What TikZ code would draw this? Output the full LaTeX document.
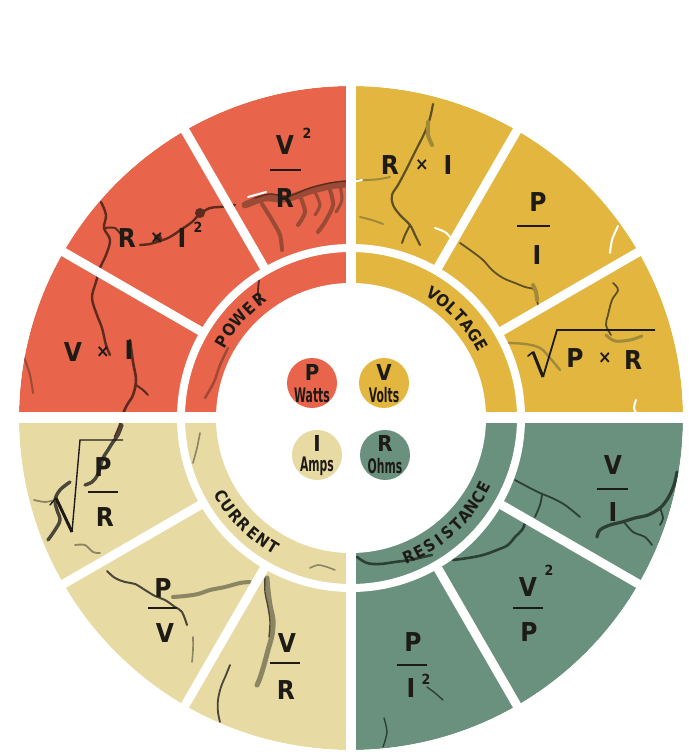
\documentclass[tikz,border=0pt]{standalone}
\usepackage{graphicx}
\usepackage{fontspec}
\setmainfont{DejaVu Sans Condensed}
\definecolor{cred}{HTML}{E8644A}
\definecolor{cgold}{HTML}{E3B640}
\definecolor{ccream}{HTML}{E7DAA3}
\definecolor{cgreen}{HTML}{6A917D}
\definecolor{ink}{HTML}{1E1B17}
\definecolor{crkred}{HTML}{5C2A1E}
\definecolor{crkredm}{HTML}{9A4A35}
\definecolor{crkgold}{HTML}{5E5026}
\definecolor{crkgoldm}{HTML}{A08A3A}
\definecolor{crkcream}{HTML}{4A463A}
\definecolor{crkcreamm}{HTML}{8C8564}
\definecolor{crkgreen}{HTML}{2C3F35}
\begin{document}
\begin{tikzpicture}[x=1pt,y=1pt,
  fx/.style={font=\fontsize{26}{26}\selectfont\bfseries, text=ink, inner sep=0pt},
  supx/.style={font=\fontsize{14}{14}\selectfont\bfseries, text=ink, inner sep=0pt},
  tms/.style={font=\fontsize{18}{18}\selectfont\bfseries, text=ink, inner sep=0pt},
  ringtxt/.style={font=\fontsize{16.5}{16.5}\selectfont\bfseries, text=ink, inner sep=0pt},
  badge/.style={circle, minimum size=50pt, inner sep=0pt},
  badgeL/.style={font=\fontsize{22}{22}\selectfont\bfseries, text=ink, inner sep=0pt},
  badgeS/.style={font=\fontsize{20}{20}\selectfont\bfseries, text=ink, inner sep=0pt},
  bar/.style={ink, line width=1.5pt},
  crk/.style={line width=2pt, line cap=round, line join=round},
  gapline/.style={white, line width=9pt},
]
\fill[white] (0,0) rectangle (700,752);
\useasboundingbox (0,0) rectangle (700,752);
\coordinate (C) at (351,334);
% quadrant pies
\fill[cred] (C) -- ++(90:332pt) arc[start angle=90,end angle=180,radius=332pt] -- cycle;
\fill[cgold] (C) -- ++(0:332pt) arc[start angle=0,end angle=90,radius=332pt] -- cycle;
\fill[ccream] (C) -- ++(180:332pt) arc[start angle=180,end angle=270,radius=332pt] -- cycle;
\fill[cgreen] (C) -- ++(270:332pt) arc[start angle=270,end angle=360,radius=332pt] -- cycle;

\begin{scope}[shift={(0,752)}, yscale=-1]
% ---- cracks: red
\draw[crk, crkred, line width=2.4pt] plot[smooth, tension=0.6] coordinates {(101,202) (106,215) (104,228) (110,240) (106,255) (100,268) (96,282) (92,298) (97,315) (102,328) (106,345) (110,355)};
\draw[crk, crkred] plot[smooth] coordinates {(105,228) (115,228) (122,236)};
\draw[crk, crkred, line width=2.6pt] plot[smooth, tension=0.6] coordinates {(130,340) (133,362) (136,380) (133,395) (127,405) (123,414) (120,425) (115,437)};
\draw[crk, crkred] plot[smooth] coordinates {(136,385) (143,390) (148,395)};
\draw[crk, crkred, line width=2.4pt] plot[smooth, tension=0.6] coordinates {(140,245) (150,244) (160,241) (170,237) (182,229) (192,222) (200,214) (210,208) (220,207) (235,205)};
\fill[crkred] (200,213) circle[radius=5pt];
\fill[crkred] (158,238) circle[radius=4pt];
\draw[crk, crkredm, line width=7pt] plot[smooth, tension=0.6] coordinates {(245,205) (265,198) (285,199) (310,191) (330,186) (346,184)};
\draw[crk, crkredm, line width=4pt] plot[smooth] coordinates {(262,204) (272,220) (280,235) (282,250)};
\draw[crk, crkredm, line width=4pt] plot[smooth] coordinates {(300,196) (305,212) (298,225)};
\draw[crk, crkredm, line width=4pt] plot[smooth] coordinates {(330,190) (333,205) (325,222) (318,232)};
\draw[crk, crkredm, line width=3pt] plot[smooth] coordinates {(315,192) (320,205) (315,215)};
\draw[crk, crkredm, line width=3pt] plot[smooth] coordinates {(340,186) (342,200) (336,212)};
\draw[crk, crkred, line width=1.4pt] plot[smooth, tension=0.6] coordinates {(255,198) (270,194) (288,196) (310,188) (330,183) (346,181)};
\draw[white, line width=2pt, line cap=round] (248,197) -- (266,192);
\draw[crk, crkred, line width=1.8pt] plot[smooth] coordinates {(259,280) (258,293) (261,305)};
\draw[crk, crkredm, line width=2.4pt] plot[smooth] coordinates {(228,348) (220,365) (214,382) (205,398)};
\draw[crk, crkredm, line width=2pt] plot[smooth] coordinates {(24,357) (30,375) (33,393)};
% ---- cracks: gold
\draw[crk, crkgold, line width=2.2pt] plot[smooth, tension=0.6] coordinates {(433,104) (430,118) (425,132) (418,146) (412,158) (405,172) (398,185) (392,195) (393,205) (400,215) (410,225) (415,235) (420,245)};
\draw[crk, crkgold] plot[smooth] coordinates {(410,225) (405,235) (402,243)};
\draw[crk, crkgoldm, line width=4pt] plot[smooth] coordinates {(428,122) (428,135) (432,145)};
\draw[crk, crkgoldm, line width=2pt] plot[smooth] coordinates {(357,180) (368,180) (380,179) (390,177)};
\draw[white, line width=2pt, line cap=round] (352,182) -- (362,180);
\draw[crk, crkgoldm, line width=2pt] plot[smooth] coordinates {(360,217) (372,220) (383,224)};
\draw[crk, crkgold, line width=1.8pt] plot[smooth, tension=0.6] coordinates {(460,243) (470,250) (483,260) (492,270) (503,278) (515,283) (525,287) (535,290) (537,300) (538,305)};
\draw[crk, crkgoldm, line width=4pt] plot[smooth] coordinates {(533,285) (536,292) (537,300)};
\draw[crk, crkgold, line width=1.8pt] plot[smooth, tension=0.6] coordinates {(613,283) (618,290) (612,300) (608,315) (606,325) (611,335)};
\draw[crk, crkgoldm, line width=2.4pt] plot[smooth, tension=0.6] coordinates {(508,343) (525,344) (540,348) (550,358) (560,370)};
\draw[crk, crkgoldm, line width=3pt] plot[smooth, tension=0.6] coordinates {(606,335) (615,341) (630,340) (642,336)};
\draw[white, line width=2pt, line cap=round] plot[smooth] coordinates {(618,226) (612,240) (610,253)};
\draw[white, line width=2pt, line cap=round] plot[smooth] coordinates {(435,228) (445,232) (450,237)};
\draw[white, line width=2pt, line cap=round] plot[smooth] coordinates {(636,400) (634,408) (637,414)};
% ---- cracks: cream
\draw[crk, crkcream, line width=3.4pt] plot[smooth, tension=0.6] coordinates {(122,425) (118,435) (113,442) (108,450) (103,458) (100,468) (97,476) (92,482) (85,485)};
\draw[crk, crkcream, line width=3.4pt] plot[smooth, tension=0.6] coordinates {(70,482) (60,490) (55,500) (57,510) (60,520) (55,530) (48,540)};
\draw[crk, crkcreamm, line width=1.8pt] plot[smooth] coordinates {(34,500) (45,502) (55,500)};
\draw[crk, crkcreamm, line width=1.8pt] plot[smooth] coordinates {(75,545) (85,545) (93,552) (100,553)};
\draw[crk, crkcream, line width=2pt] plot[smooth, tension=0.6] coordinates {(107,571) (115,578) (125,582) (135,584) (145,590) (155,596) (165,600) (175,607) (182,612) (187,625)};
\draw[crk, crkcreamm, line width=4pt] plot[smooth, tension=0.6] coordinates {(173,597) (185,596) (198,594) (210,590) (225,587) (240,583) (250,582)};
\draw[crk, crkcreamm, line width=5pt] plot[smooth, tension=0.6] coordinates {(267,578) (268,590) (270,605) (273,620) (272,635) (268,650) (264,665) (260,678) (257,685)};
\draw[crk, crkcream, line width=1.4pt] plot[smooth, tension=0.6] coordinates {(265,578) (265,592) (268,607) (270,622) (269,637)};
\draw[crk, crkcream, line width=1.8pt] plot[smooth, tension=0.6] coordinates {(230,665) (226,675) (221,687) (218,700) (218,712) (220,722)};
\draw[crk, crkcreamm, line width=1.6pt] plot[smooth] coordinates {(193,637) (193,650) (192,662)};
\draw[crk, crkcreamm, line width=1.6pt] plot[smooth] coordinates {(200,433) (197,448) (193,463)};
\draw[crk, crkcreamm, line width=1.6pt] plot[smooth] coordinates {(310,568) (318,565) (327,567) (335,570)};
% ---- cracks: green
\draw[crk, crkgreen, line width=2.6pt] plot[smooth, tension=0.6] coordinates {(357,557) (367,563) (380,564) (395,562) (410,560) (423,557) (432,555)};
\draw[crk, crkgreen, line width=2.6pt] plot[smooth, tension=0.6] coordinates {(453,560) (468,558) (483,555) (497,550) (508,545) (515,537) (522,530) (525,523)};
\draw[crk, crkgreen, line width=3.2pt] plot[smooth, tension=0.6] coordinates {(677,472) (674,485) (668,498) (660,508) (648,515) (635,518) (622,522) (610,525) (600,530) (597,537)};
\draw[crk, crkgreen, line width=1.8pt] plot[smooth] coordinates {(624,522) (633,532) (645,537) (652,545)};
\draw[crk, crkgreen, line width=1.8pt] plot[smooth] coordinates {(660,508) (663,518) (660,525)};
\draw[crk, crkgreen, line width=1.8pt] plot[smooth, tension=0.6] coordinates {(515,480) (528,487) (540,493) (552,498) (565,505) (580,517)};
\draw[crk, crkgreen, line width=1.8pt] plot[smooth] coordinates {(542,495) (540,505) (535,517)};
\draw[crk, crkgreen, line width=1.4pt] plot[smooth] coordinates {(384,718) (387,732) (383,747)};
\draw[crk, crkgreen, line width=1.4pt] plot[smooth] coordinates {(427,687) (435,693) (443,700)};
\end{scope}

% white gaps and masks
\fill[white, even odd rule] (C) circle[radius=174pt] (C) circle[radius=166pt];
\fill[white] (C) circle[radius=135pt];
\fill[white, even odd rule] (-5,-5) rectangle (705,757) (C) circle[radius=332pt];
\draw[white, line width=11pt] ([shift={(-340pt,0)}]C) -- ([shift={(340pt,0)}]C);
\draw[white, line width=10pt] ([shift={(0,-340pt)}]C) -- ([shift={(0,340pt)}]C);
\foreach \a in {30,60,120,150,210,240,300,330}
  \draw[gapline] ([shift={(\a:170pt)}]C) -- ([shift={(\a:340pt)}]C);

% ring labels
\foreach \ch [count=\i from 0] in {P,O,W,E,R}
  \node[ringtxt, rotate={149.5-5.5*\i-90}] (pw\i) at ([shift={({149.5-5.5*\i}:150pt)}]C) {\ch};
\foreach \ch [count=\i from 0] in {V,O,L,T,A,G,E}
  \node[ringtxt, rotate={56.6-4.57*\i-90}] (vo\i) at ([shift={({56.6-4.57*\i}:149pt)}]C) {\ch};
\foreach \ch [count=\i from 0] in {C,U,R,R,E,N,T}
  \node[ringtxt, rotate={211+4.63*\i+90}] (cu\i) at ([shift={({211+4.63*\i}:151pt)}]C) {\ch};
\foreach \ch [count=\i from 0] in {R,E,S,I,S,T,A,N,C,E}
  \node[ringtxt, rotate={292.6+4.42*\i+90}] (re\i) at ([shift={({292.6+4.42*\i}:150pt)}]C) {\ch};

\begin{scope}[shift={(0,752)}, yscale=-1]
% badges
\node[badge, fill=cred] (pc) at (312,383) {};
\node[badgeL] (pcl) at (312,372) {P};
\node[badgeS] (pcs) at (312,395) {\scalebox{0.6}[1]{Watts}};
\node[badge, fill=cgold] (vc) at (384,383) {};
\node[badgeL] (vcl) at (384,372) {V};
\node[badgeS] (vcs) at (384,395) {\scalebox{0.6}[1]{Volts}};
\node[badge, fill=ccream] (ic) at (317,455) {};
\node[badgeL] (icl) at (317,443) {I};
\node[badgeS] (ics) at (317,466) {\scalebox{0.6}[1]{Amps}};
\node[badge, fill=cgreen] (rc) at (385,455) {};
\node[badgeL] (rcl) at (385,443) {R};
\node[badgeS] (rcs) at (385,466) {\scalebox{0.6}[1]{Ohms}};

% red formulas
\node[fx] (r1n) at (285,145) {V};
\node[supx] (r1s) at (307,133) {2};
\draw[bar] (270,170) -- (301,170);
\node[fx] (r1d) at (285,198) {R};
\node[fx] (r2a) at (127,238) {R};
\node[tms] (r2b) at (157,238) {×};
\node[fx] (r2c) at (182,238) {I};
\node[supx] (r2d) at (198,227) {2};
\node[fx] (r3a) at (73,352) {V};
\node[tms] (r3b) at (103,352) {×};
\node[fx] (r3c) at (129,350) {I};
% gold formulas
\node[fx] (g1a) at (390,165) {R};
\node[tms] (g1b) at (422,165) {×};
\node[fx] (g1c) at (448,165) {I};
\node[fx] (g2n) at (538,202) {P};
\draw[bar] (517,226) -- (550,226);
\node[fx] (g2d) at (537,255) {I};
\draw[ink, line width=1.6pt, line cap=round] (528,356) -- (533,352);
\draw[ink, line width=3pt, line join=miter] (533,352) -- (543,377);
\draw[ink, line width=1.8pt] (543,377) -- (557,330) -- (655,330);
\node[fx] (g3a) at (575,358) {P};
\node[tms] (g3b) at (605,358) {×};
\node[fx] (g3c) at (633,360) {R};
% cream formulas
\draw[ink, line width=1.4pt, line cap=round] (50,505) -- (56,498);
\draw[ink, line width=3pt] (56,498) -- (72,532);
\draw[ink, line width=1.4pt] (72,532) -- (80,440) -- (123,440);
\node[fx] (c1n) at (103,467) {P};
\draw[bar] (88,492) -- (118,492);
\node[fx] (c1d) at (105,517) {R};
\node[fx] (c2n) at (163,588) {P};
\draw[bar] (148,608) -- (177,608);
\node[fx] (c2d) at (165,633) {V};
\node[fx] (c3n) at (287,643) {V};
\draw[bar] (270,663) -- (300,663);
\node[fx] (c3d) at (286,690) {R};
% green formulas
\node[fx] (e1n) at (613,465) {V};
\draw[bar] (597,489) -- (628,489);
\node[fx] (e1d) at (613,512) {I};
\node[fx] (e2n) at (528,587) {V};
\node[supx] (e2s) at (549,570) {2};
\draw[bar] (513,608) -- (543,608);
\node[fx] (e2d) at (529,632) {P};
\node[fx] (e3n) at (413,642) {P};
\draw[bar] (397,665) -- (427,665);
\node[fx] (e3d) at (411,688) {I};
\node[supx] (e3s) at (426,679) {2};
\end{scope}
\end{tikzpicture}
\end{document}
